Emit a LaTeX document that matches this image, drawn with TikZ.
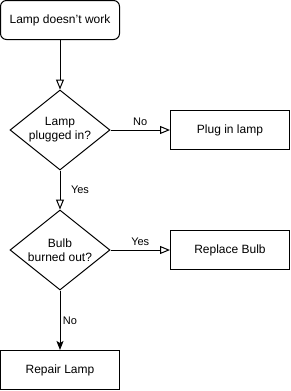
\documentclass[tikz,border=0pt]{standalone}
\usepackage{fontspec}
\setmainfont{Liberation Sans}
\usetikzlibrary{shapes.geometric,arrows.meta}
\begin{document}
\begin{tikzpicture}[x=1pt,y=-1pt,line width=1pt,
  box/.style={draw,minimum width=119pt,minimum height=39pt,inner sep=0pt,align=center,font=\fontsize{12}{14}\selectfont},
  rbox/.style={box,rounded corners=6pt},
  dec/.style={draw,diamond,aspect=1.25,minimum width=100pt,minimum height=80pt,inner sep=0pt,align=center,font=\fontsize{12}{14}\selectfont},
  oarr/.style={-{Triangle[open,length=10pt,width=8pt]}},
  farr/.style={-{Stealth[length=9pt,width=7pt,inset=2pt]}},
  lbl/.style={font=\fontsize{11}{13}\selectfont,inner sep=0pt}]
\useasboundingbox (0,0) rectangle (291,391);
\node[rbox] (start) at (60,20) {Lamp doesn\char"0027t work};
\node[dec] (d1) at (60,130) {Lamp\\plugged in?};
\node[box] (plug) at (230,130) {Plug in lamp};
\node[dec] (d2) at (60,250) {Bulb\\burned out?};
\node[box] (repl) at (230,250) {Replace Bulb};
\node[box] (repair) at (60,370) {Repair Lamp};
\draw[oarr] (start) -- (d1.north);
\draw[oarr] (d1.east) -- (plug.west) node[lbl,pos=0.5,above=4pt] {No};
\draw[oarr] (d1.south) -- (d2.north);
\node[lbl] (ly) at (80,190) {Yes};
\draw[oarr] (d2.east) -- (repl.west) node[lbl,pos=0.5,above=4pt] {Yes};
\draw[farr] (d2.south) -- (repair.north);
\node[lbl] (ln) at (70,321) {No};
\end{tikzpicture}
\end{document}
